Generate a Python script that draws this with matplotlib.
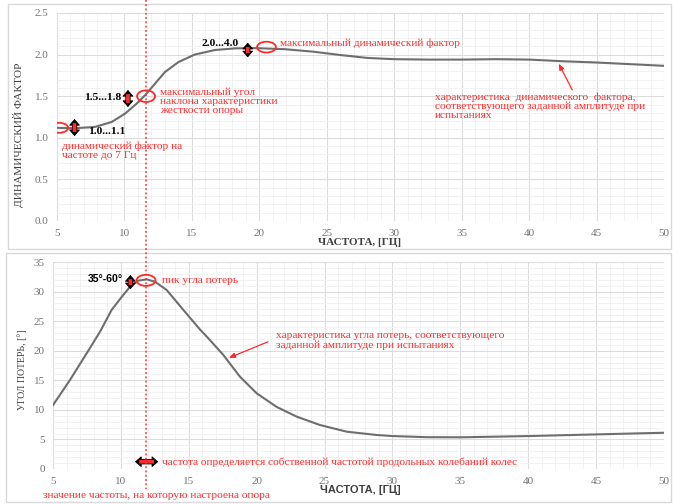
import numpy as np
import matplotlib.pyplot as plt
import matplotlib.patheffects as pe
from matplotlib.patches import Ellipse, Rectangle
from matplotlib.lines import Line2D
from matplotlib.ticker import MultipleLocator, FormatStrFormatter

# ---- Data ----
freq_dyn = [5, 6.3, 7.8, 9.05, 10.04, 10.9, 11.52, 12.26, 13.0, 14.0, 15.2, 16.7, 18.2, 19.7,
            21.9, 24, 26, 28, 30, 32.5, 35, 37.5, 40, 42.5, 45, 47.5, 50]
dyn_factor = [1.12, 1.115, 1.13, 1.19, 1.29, 1.41, 1.51, 1.65, 1.79, 1.91, 2.0, 2.055, 2.075, 2.078,
              2.065, 2.035, 1.995, 1.96, 1.945, 1.94, 1.94, 1.945, 1.94, 1.92, 1.905, 1.885, 1.865]

freq_loss = [5, 6.25, 7.48, 8.46, 9.32, 10.06, 10.67, 11.28, 11.9, 12.51, 13.37, 14.6, 15.82,
             16.32, 17.54, 18.77, 20.0, 21.47, 22.95, 24.66, 26.63, 28.84, 30, 32.5, 35, 37.5,
             40, 45, 50]
loss_angle = [10.8, 15.05, 19.56, 23.2, 26.9, 29.1, 30.8, 31.85, 32.07, 31.67, 30.27, 26.9, 23.6,
              22.4, 19.3, 15.6, 12.8, 10.5, 8.85, 7.44, 6.31, 5.75, 5.57, 5.38, 5.36, 5.46,
              5.57, 5.85, 6.13]

RED = "#ff2a2a"
SERIF = "Liberation Serif"
TICK_COLOR = "#737373"
TXT = 8.2

plt.rcParams["font.family"] = [SERIF, "DejaVu Serif"]


def style_axes(ax, ymax, ymaj, ymin_step, yfmt):
    ax.set_xlim(5, 50)
    ax.set_ylim(0, ymax)
    ax.xaxis.set_major_locator(MultipleLocator(5))
    ax.xaxis.set_minor_locator(MultipleLocator(1))
    ax.yaxis.set_major_locator(MultipleLocator(ymaj))
    ax.yaxis.set_minor_locator(MultipleLocator(ymin_step))
    ax.yaxis.set_major_formatter(FormatStrFormatter(yfmt))
    ax.grid(which="major", color="#dcdcdc", lw=0.8)
    ax.grid(which="minor", color="#f0f0f0", lw=0.6)
    ax.set_axisbelow(True)
    for s in ax.spines.values():
        s.set_visible(False)
    ax.tick_params(which="both", length=0, labelsize=8, colors=TICK_COLOR, pad=6)


def double_arrow(ax, p0, p1):
    # black heads
    ax.annotate("", xy=p1, xytext=p0,
                arrowprops=dict(arrowstyle="<|-|>,head_length=0.4,head_width=0.35",
                                fc="black", ec="black", lw=0.6, shrinkA=0, shrinkB=0,
                                mutation_scale=10))
    # red body with dark outline
    ax.annotate("", xy=p1, xytext=p0,
                arrowprops=dict(arrowstyle="-", color=RED, lw=2.7, shrinkA=3.0, shrinkB=3.0,
                                capstyle="butt",
                                path_effects=[pe.Stroke(linewidth=3.8, foreground="black"),
                                              pe.Normal()]))


def mark(ax, x, y, w, h):
    ax.add_patch(Ellipse((x, y), w, h, fill=False, ec=RED, lw=1.3, zorder=5))


def pointer(ax, tip, tail):
    ax.annotate("", xy=tip, xytext=tail,
                arrowprops=dict(arrowstyle="-|>,head_length=0.35,head_width=0.15", color=RED,
                                lw=0.9, shrinkA=0, shrinkB=0))


fig = plt.figure(figsize=(6.73, 5.04), dpi=100)

# panel frames
fig.patches.append(Rectangle((8 / 673, 1 - 249 / 504), 663 / 673, 245 / 504, transform=fig.transFigure,
                             fill=False, ec="#d9d9d9", lw=1.0))
fig.patches.append(Rectangle((6 / 673, 1 - 502 / 504), 665 / 673, 249 / 504, transform=fig.transFigure,
                             fill=False, ec="#d9d9d9", lw=1.0))

# ---- Top: dynamic factor ----
ax1 = fig.add_axes([57 / 673, 1 - 221 / 504, 607 / 673, 208 / 504])
style_axes(ax1, 2.5, 0.5, 0.1, "%.1f")
ax1.plot(freq_dyn, dyn_factor, color="#6e6e6e", lw=1.5, solid_joinstyle="round")

mark(ax1, 5.15, 1.12, 1.35, 0.12)
mark(ax1, 11.6, 1.50, 1.33, 0.14)
mark(ax1, 20.53, 2.09, 1.4, 0.13)

double_arrow(ax1, (6.3, 1.02), (6.3, 1.226))
double_arrow(ax1, (10.26, 1.37), (10.26, 1.575))
double_arrow(ax1, (19.14, 1.967), (19.14, 2.143))

ax1.text(7.3, 1.07, "1.0...1.1", fontsize=TXT, fontweight="bold", va="center", ha="left")
ax1.text(9.74, 1.48, "1.5...1.8", fontsize=TXT, fontweight="bold", va="center", ha="right")
ax1.text(18.5, 2.13, "2.0...4.0", fontsize=TXT, fontweight="bold", va="center", ha="right")

ax1.text(5.37, 0.96, "динамический фактор на\nчастоте до 7 Гц", color=RED, fontsize=TXT,
         va="top", ha="left", linespacing=1.05)
ax1.text(12.63, 1.61, "максимальный угол\nнаклона характеристики\nжесткости опоры", color=RED,
         fontsize=TXT, va="top", ha="left", linespacing=1.0)
ax1.text(21.53, 2.14, "максимальный динамический фактор", color=RED, fontsize=TXT,
         va="center", ha="left")
ax1.text(33.0, 1.55, "характеристика  динамического  фактора,\nсоответствующего заданной амплитуде при\nиспытаниях",
         color=RED, fontsize=TXT, va="top", ha="left", linespacing=1.0)
pointer(ax1, (42.2, 1.89), (43.2, 1.575))

# ---- Bottom: loss angle ----
ax2 = fig.add_axes([53 / 673, 1 - 469 / 504, 611 / 673, 207 / 504])
style_axes(ax2, 35, 5, 1, "%d")
ax2.plot(freq_loss, loss_angle, color="#6e6e6e", lw=1.5, solid_joinstyle="round")

mark(ax2, 11.85, 31.9, 1.4, 1.86)
double_arrow(ax2, (10.7, 30.4), (10.7, 32.8))
double_arrow(ax2, (11.04, 1.23), (12.75, 1.23))

ax2.text(10.15, 32.1, "35°-60°", fontsize=7.6, fontweight="bold", va="center", ha="right",
         family=["Liberation Sans", "DejaVu Sans"])
ax2.text(13.03, 31.8, "пик угла потерь", color=RED, fontsize=TXT, va="center", ha="left")
ax2.text(21.42, 23.3, "характеристика угла потерь, соответствующего\nзаданной амплитуде при испытаниях",
         color=RED, fontsize=TXT, va="top", ha="left", linespacing=1.0)
pointer(ax2, (17.96, 18.8), (20.83, 21.5))
ax2.text(13.03, 1.2, "частота определяется собственной частотой продольных колебаний колес",
         color=RED, fontsize=TXT, va="center", ha="left")

# axis titles
fig.text(19 / 673, 1 - 135 / 504, "ДИНАМИЧЕСКИЙ ФАКТОР", rotation=90, fontsize=8.2,
         color="#404040", ha="center", va="center")
fig.text(360 / 673, 1 - 242 / 504, "ЧАСТОТА, [ГЦ]", fontsize=8, fontweight="bold",
         color="#404040", ha="center", va="center")
fig.text(22 / 673, 1 - 370 / 504, "УГОЛ ПОТЕРЬ, [°]", rotation=90, fontsize=7,
         color="#404040", ha="center", va="center")
fig.text(360 / 673, 1 - 490 / 504, "ЧАСТОТА, [ГЦ]", fontsize=8, fontweight="bold",
         color="#404040", ha="center", va="center", family=["Liberation Sans", "DejaVu Sans"])
fig.text(43 / 673, 1 - 495 / 504, "значение частоты, на которую настроена опора", color=RED,
         fontsize=TXT, ha="left", va="center")

# tuned frequency marker across both panels
fig.add_artist(Line2D([145.5 / 673, 145.5 / 673], [1.0, 1 - 489 / 504], transform=fig.transFigure,
                      color=RED, lw=1.1, ls=(0, (1.2, 1.6))))

fig.savefig("out.png", dpi=100)
